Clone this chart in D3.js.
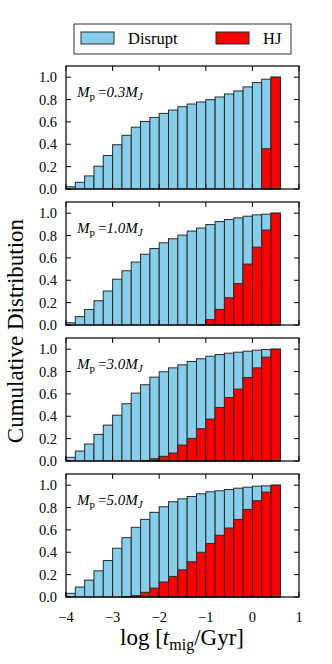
<!DOCTYPE html>
<meta charset="utf-8">
<head>
    <script type="text/javascript" src="https://cdnjs.cloudflare.com/ajax/libs/d3/7.8.5/d3.min.js"></script>
    <style>
        body { margin: 0; background: #fff; }
        text { font-family: "Liberation Serif", "DejaVu Serif", serif; fill: #000; }
    </style>
</head>

<body>
<div id="chart"></div>

<script>

    // bin left edges, log t_mig (Gyr), width 0.2
    var binStarts = [-4.0, -3.8, -3.6, -3.4, -3.2, -3.0, -2.8, -2.6, -2.4, -2.2, -2.0, -1.8,
        -1.6, -1.4, -1.2, -1.0, -0.8, -0.6, -0.4, -0.2, 0.0, 0.2, 0.4];
    var binWidth = 0.2;

    var massLabels = ["0.3", "1.0", "3.0", "5.0"];

    // cumulative fractions
    var disrupt03 = [0.02, 0.06, 0.117, 0.204, 0.30, 0.396, 0.48, 0.553, 0.604, 0.64, 0.676, 0.706,
        0.736, 0.76, 0.778, 0.799, 0.823, 0.85, 0.877, 0.913, 0.952, 0.982, 1.0];
    var hj03 = [0, 0, 0, 0, 0, 0, 0, 0, 0, 0, 0, 0,
        0, 0, 0, 0, 0, 0, 0, 0, 0, 0.36, 1.0];

    var disrupt10 = [0.02, 0.075, 0.139, 0.217, 0.304, 0.41, 0.485, 0.563, 0.633, 0.684, 0.735, 0.771,
        0.804, 0.84, 0.867, 0.898, 0.925, 0.943, 0.958, 0.973, 0.985, 0.991, 1.0];
    var hj10 = [0, 0, 0, 0, 0, 0, 0, 0, 0, 0, 0, 0,
        0, 0, 0.004, 0.048, 0.139, 0.244, 0.37, 0.545, 0.696, 0.849, 1.0];

    var disrupt30 = [0.033, 0.089, 0.152, 0.238, 0.321, 0.41, 0.512, 0.607, 0.682, 0.75, 0.798, 0.833,
        0.86, 0.89, 0.914, 0.937, 0.952, 0.964, 0.973, 0.982, 0.991, 0.997, 1.0];
    var hj30 = [0, 0, 0, 0, 0, 0, 0, 0, 0.003, 0.02, 0.042, 0.071,
        0.143, 0.202, 0.289, 0.375, 0.479, 0.568, 0.643, 0.747, 0.833, 0.929, 1.0];

    var disrupt50 = [0.033, 0.089, 0.151, 0.234, 0.326, 0.436, 0.531, 0.623, 0.694, 0.757, 0.807, 0.852,
        0.878, 0.899, 0.923, 0.941, 0.95, 0.961, 0.973, 0.982, 0.991, 0.994, 1.0];
    var hj50 = [0, 0, 0, 0, 0, 0, 0.004, 0.012, 0.042, 0.08, 0.134, 0.184,
        0.243, 0.315, 0.40, 0.478, 0.552, 0.617, 0.694, 0.783, 0.861, 0.938, 1.0];

    var disruptSets = [disrupt03, disrupt10, disrupt30, disrupt50];
    var hjSets = [hj03, hj10, hj30, hj50];

    var xTicks = [-4, -3, -2, -1, 0, 1];
    var yTicks = [0.0, 0.2, 0.4, 0.6, 0.8, 1.0];

    var w = 332;
    var h = 664;

    var svg = d3.select("div#chart").append("svg")
        .attr("width", w).attr("height", h);

    var left = 66, right = 299;
    var panelH = 123, panelTop0 = 66, panelStep = 136;

    var blue = "#87ceeb", red = "#ff0000", edge = "#2a2a2a";

    var x = d3.scaleLinear().domain([-4, 1]).range([left, right]);

    disruptSets.forEach(function (dis, i) {
        var top = panelTop0 + i * panelStep;
        var y = d3.scaleLinear().domain([0, 1.1]).range([top + panelH, top]);
        var g = svg.append("g");

        // disrupt bars (behind)
        g.selectAll("rect.dis")
            .data(dis)
            .enter().append("rect")
            .attr("class", "dis")
            .attr("x", (d, k) => x(binStarts[k]))
            .attr("width", (d, k) => x(binStarts[k] + binWidth) - x(binStarts[k]))
            .attr("y", d => y(d))
            .attr("height", d => y(0) - y(d))
            .attr("fill", blue)
            .attr("stroke", edge)
            .attr("stroke-width", 1);

        // HJ bars on top
        g.selectAll("rect.hj")
            .data(hjSets[i])
            .enter().append("rect")
            .attr("class", "hj")
            .attr("x", (d, k) => x(binStarts[k]))
            .attr("width", (d, k) => x(binStarts[k] + binWidth) - x(binStarts[k]))
            .attr("y", d => y(d))
            .attr("height", d => y(0) - y(d))
            .attr("fill", red)
            .attr("stroke", edge)
            .attr("stroke-width", d => d > 0 ? 1 : 0);

        // frame
        g.append("rect")
            .attr("x", left).attr("y", top)
            .attr("width", right - left).attr("height", panelH)
            .attr("fill", "none").attr("stroke", "#000").attr("stroke-width", 1.2);

        // inward ticks on all sides
        var tl = 5;
        yTicks.forEach(function (t) {
            g.append("line").attr("x1", left).attr("x2", left + tl)
                .attr("y1", y(t)).attr("y2", y(t)).attr("stroke", "#000");
            g.append("line").attr("x1", right).attr("x2", right - tl)
                .attr("y1", y(t)).attr("y2", y(t)).attr("stroke", "#000");
            g.append("text").attr("x", left - 9).attr("y", y(t) + 5)
                .attr("text-anchor", "end").style("font-size", "14.5px")
                .text(d3.format(".1f")(t));
        });
        xTicks.forEach(function (t) {
            g.append("line").attr("x1", x(t)).attr("x2", x(t))
                .attr("y1", top).attr("y2", top + tl).attr("stroke", "#000");
            g.append("line").attr("x1", x(t)).attr("x2", x(t))
                .attr("y1", top + panelH).attr("y2", top + panelH - tl).attr("stroke", "#000");
        });

        // mass annotation
        var ann = g.append("text").attr("x", 77).attr("y", top + 31).style("font-size", "15px");
        ann.append("tspan").style("font-style", "italic").text("M");
        ann.append("tspan").attr("dy", 3).style("font-size", "11px").text("p");
        ann.append("tspan").attr("dy", -3).text("\u2009=");
        ann.append("tspan").style("font-style", "italic").text(massLabels[i] + "M");
        ann.append("tspan").attr("dy", 3).style("font-size", "11px").style("font-style", "italic").text("J");

        if (i === disruptSets.length - 1) {
            xTicks.forEach(function (t) {
                g.append("text").attr("x", x(t)).attr("y", top + panelH + 25)
                    .attr("text-anchor", "middle").style("font-size", "14.5px")
                    .text(t < 0 ? "\u2212" + Math.abs(t) : t);
            });
        }
    });

    // legend
    var lg = svg.append("g");
    lg.append("rect").attr("x", 74).attr("y", 24).attr("width", 217).attr("height", 30)
        .attr("fill", "#fff").attr("stroke", "#333").attr("stroke-width", 1);
    lg.append("rect").attr("x", 81).attr("y", 32).attr("width", 33).attr("height", 12)
        .attr("fill", blue).attr("stroke", edge);
    lg.append("text").attr("x", 128).attr("y", 43.5).style("font-size", "16.5px").text("Disrupt");
    lg.append("rect").attr("x", 216).attr("y", 32).attr("width", 33).attr("height", 12)
        .attr("fill", red).attr("stroke", edge);
    lg.append("text").attr("x", 263).attr("y", 43.5).style("font-size", "16.5px").text("HJ");

    // axis labels
    svg.append("text")
        .attr("transform", "translate(23,331) rotate(-90)")
        .attr("text-anchor", "middle").style("font-size", "23px")
        .text("Cumulative Distribution");

    var xl = svg.append("text").attr("x", 182).attr("y", 645)
        .attr("text-anchor", "middle").style("font-size", "23px");
    xl.append("tspan").text("log [");
    xl.append("tspan").style("font-style", "italic").text("t");
    xl.append("tspan").attr("dy", 5).style("font-size", "16px").text("mig");
    xl.append("tspan").attr("dy", -5).text("/Gyr]");

</script>

</body>
</html>
